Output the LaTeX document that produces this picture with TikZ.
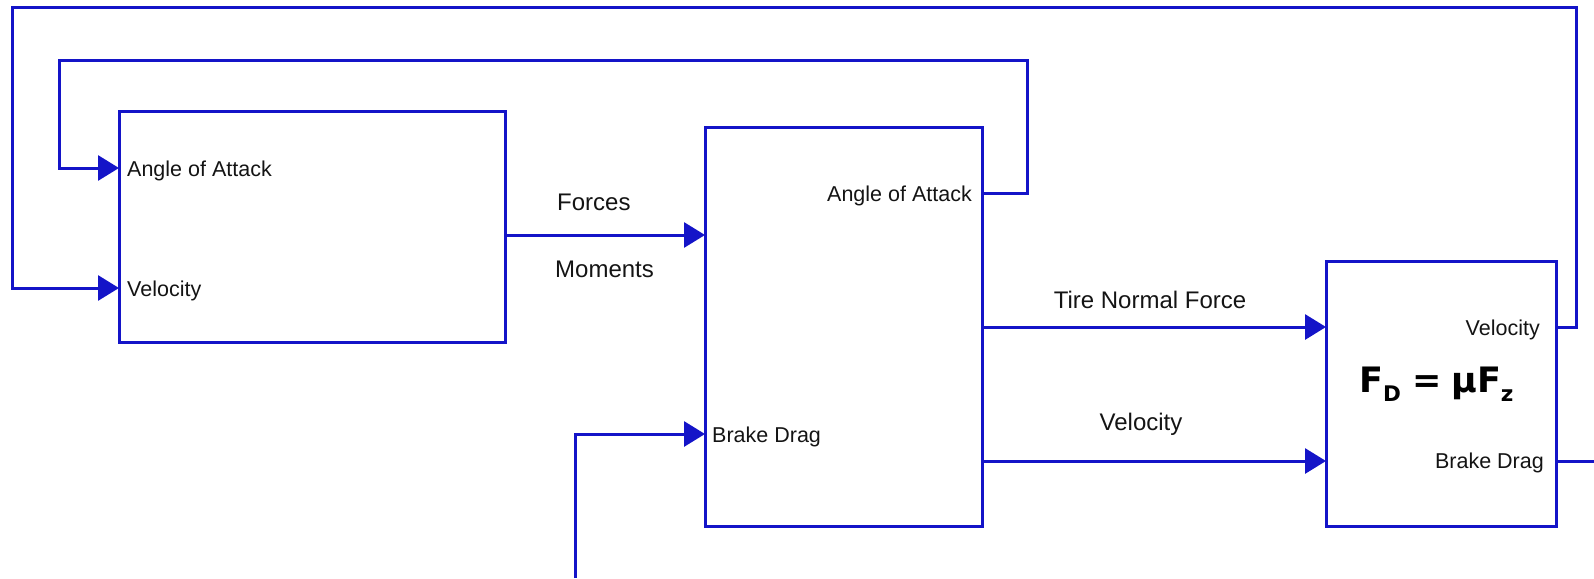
\documentclass[tikz,border=0pt]{standalone}
\usepackage{fontspec}
\setmainfont{Liberation Sans}
\newfontfamily\eqfont{DejaVu Sans}
\usetikzlibrary{arrows.meta}
\definecolor{wire}{RGB}{20,20,200}
\definecolor{ink}{RGB}{20,20,20}
\begin{document}
\begin{tikzpicture}[x=1pt,y=-1pt,
  blk/.style={draw=wire, line width=3pt, rectangle, inner sep=0pt, outer sep=0pt, anchor=north west},
  wirel/.style={draw=wire, line width=3pt},
  feed/.style={wirel, -{Triangle[length=21pt,width=25pt,fill=wire]}},
  port/.style={font=\fontsize{21.5}{24}\selectfont, text=ink, inner sep=0pt},
  tag/.style={font=\fontsize{24}{28}\selectfont, text=ink, inner sep=0pt}]
\useasboundingbox (0,0) rectangle (1594,578);

% blocks
\node[blk, minimum width=386pt, minimum height=231pt] (b1) at (119,111) {};
\node[blk, minimum width=277pt, minimum height=399pt] (b2) at (705,127) {};
\node[blk, minimum width=230pt, minimum height=265pt] (b3) at (1326,261) {};

% signal rows
\coordinate (yaoa1) at (0,168);
\coordinate (yvel1) at (0,288);
\coordinate (yfm)   at (0,235);
\coordinate (yaoa2) at (0,193);
\coordinate (ybd2)  at (0,434);
\coordinate (ytnf)  at (0,327);
\coordinate (yvel2) at (0,461);

% loop corners and free ends
\coordinate (in-ne)  at (1027,61);
\coordinate (in-nw)  at (59,61);
\coordinate (out-ne) at (1576,8);
\coordinate (out-nw) at (12,8);
\coordinate (bd-src) at (575,578);
\coordinate (bd-out) at (1594,461);

% port labels
\node[port, anchor=base west] (t-aoa1) at (127,176) {Angle of Attack};
\node[port, anchor=base west] (t-vel1) at (127,296) {Velocity};
\node[port, anchor=base east] (t-aoa2) at (972,201) {Angle of Attack};
\node[port, anchor=base west] (t-bd2)  at (712,442) {Brake Drag};
\node[port, anchor=base east] (t-vel3) at (1540,335) {Velocity};
\node[port, anchor=base east] (t-bd3)  at (1544,468) {Brake Drag};

% signal labels
\node[tag, anchor=base west] (s-f)   at (557,210) {Forces};
\node[tag, anchor=base west] (s-m)   at (555,277) {Moments};
\node[tag, anchor=base]      (s-tnf) at (1150,308) {Tire Normal Force};
\node[tag, anchor=base]      (s-vel) at (1141,430) {Velocity};

% brake drag law
\node[inner sep=0pt, anchor=base west, text=black,
      font=\eqfont\bfseries\fontsize{35}{40}\selectfont] (eq) at (1359,392)
  {F\raisebox{-9pt}{\fontsize{21.5}{24}\selectfont D}\hspace{12pt}=\hspace{9pt}μF\raisebox{-9pt}{\fontsize{21.5}{24}\selectfont z}};

% connectors
\draw[feed] (b1.east |- yfm) -- (b2.west |- yfm);
\draw[feed] (b2.east |- yaoa2) -| (in-ne) -- (in-nw) |- (b1.west |- yaoa1);
\draw[feed] (b3.east |- ytnf) -| (out-ne) -- (out-nw) |- (b1.west |- yvel1);
\draw[feed] (b2.east |- ytnf) -- (b3.west |- ytnf);
\draw[feed] (b2.east |- yvel2) -- (b3.west |- yvel2);
\draw[feed] (bd-src) |- (b2.west |- ybd2);
\draw[wirel] (b3.east |- yvel2) -- (bd-out);
\end{tikzpicture}
\end{document}
